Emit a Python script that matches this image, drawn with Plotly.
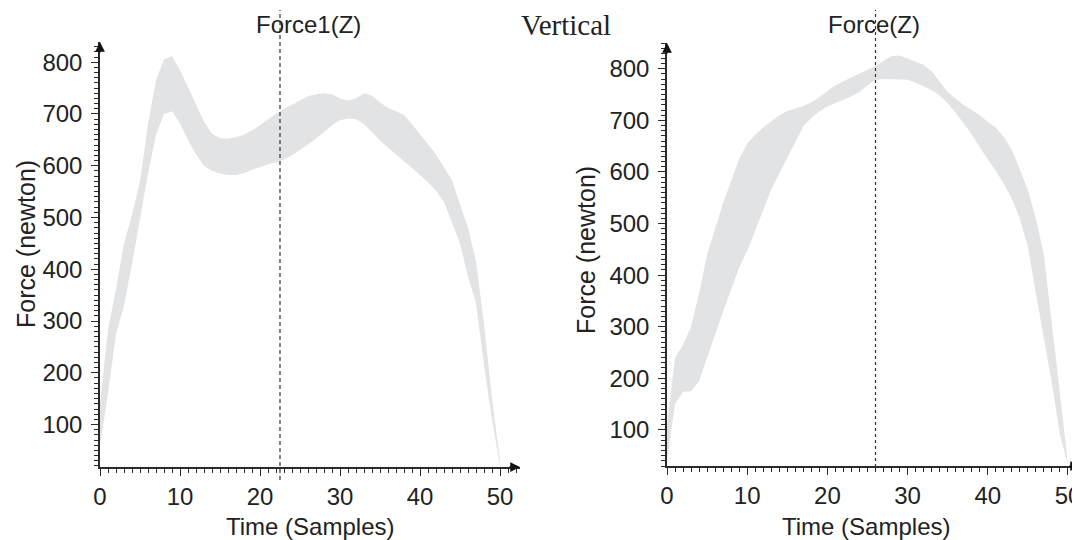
import plotly.graph_objects as go

# ---------------- data ----------------
samples = list(range(0, 51))

# Left panel: Force1(Z) band (upper / lower envelope, newton)
force1_upper = [140, 283, 362, 450, 505, 570, 680, 765, 805, 812, 785, 752, 718, 685, 662,
                653, 652, 655, 660, 668, 678, 690, 700, 710, 718, 726, 734, 738, 740, 738,
                730, 726, 730, 740, 735, 722, 712, 705, 698, 680, 660, 642, 622, 597, 572,
                525, 480, 415, 295, 150, 30]
force1_lower = [60, 160, 275, 330, 410, 500, 585, 660, 700, 705, 682, 650, 622, 600, 590,
                585, 582, 582, 586, 592, 598, 603, 606, 612, 620, 630, 641, 652, 665, 678,
                688, 691, 690, 680, 665, 648, 635, 622, 608, 595, 582, 568, 552, 530, 490,
                450, 385, 335, 215, 110, 20]

# Right panel: Force(Z) band (upper / lower envelope, newton)
force_upper = [110, 240, 265, 300, 365, 440, 490, 540, 583, 625, 655, 672, 686, 698, 710,
               718, 723, 728, 735, 745, 757, 768, 776, 783, 790, 798, 806, 815, 825, 826,
               820, 815, 808, 795, 775, 755, 742, 730, 720, 710, 697, 686, 668, 643, 605,
               565, 510, 439, 305, 165, 35]
force_lower = [40, 150, 174, 175, 195, 240, 287, 330, 372, 415, 447, 487, 528, 566, 597,
               627, 657, 688, 705, 717, 727, 733, 740, 747, 755, 768, 779, 780, 780, 780,
               779, 773, 766, 759, 748, 733, 715, 695, 673, 648, 626, 602, 577, 548, 510,
               455, 365, 280, 190, 90, 32]

marker_left = 22.5
marker_right = 26

x_ticks = [0, 10, 20, 30, 40, 50]
y_ticks = [100, 200, 300, 400, 500, 600, 700, 800]

titles = ["Force1(Z)", "Vertical", "Force(Z)"]
x_title = "Time (Samples)"
y_title = "Force (newton)"

# ---------------- figure ----------------
PAGE_OFF = 8           # default body margin of the html page
W, H = 1080 - PAGE_OFF, 540 - PAGE_OFF
BAND = "#e2e3e5"
AX = "#2b2b2b"
TXT = "#222222"
FONT = "Liberation Sans, Arial, sans-serif"
TICK_SIZE = 24


def px_x(p):
    return (p - PAGE_OFF) / W


def px_y(p):
    return 1 - (p - PAGE_OFF) / H


fig = go.Figure()

for (up, lo, xa, ya) in [(force1_upper, force1_lower, "x", "y"),
                         (force_upper, force_lower, "x2", "y2")]:
    fig.add_trace(go.Scatter(x=samples, y=up, mode="lines", line=dict(width=0, color=BAND),
                             xaxis=xa, yaxis=ya, hoverinfo="skip", showlegend=False))
    fig.add_trace(go.Scatter(x=samples, y=lo, mode="lines", line=dict(width=0, color=BAND),
                             fill="tonexty", fillcolor=BAND,
                             xaxis=xa, yaxis=ya, hoverinfo="skip", showlegend=False))


def xaxis_cfg(domain, rng, anchor):
    return dict(domain=domain, range=rng, anchor=anchor, tickvals=x_ticks,
                ticks="outside", ticklen=7, tickwidth=1, tickcolor=AX,
                minor=dict(dtick=1, tick0=0, ticks="outside", ticklen=4, tickwidth=1, tickcolor=AX),
                showline=True, linecolor=AX, linewidth=1.5, showgrid=False, zeroline=False,
                ticklabelstandoff=0, ticklabeloverflow="allow", automargin=False,
                tickfont=dict(size=TICK_SIZE, color=TXT, family=FONT))


def yaxis_cfg(domain, rng, anchor):
    return dict(domain=domain, range=rng, anchor=anchor, tickvals=y_ticks,
                ticks="outside", ticklen=7, tickwidth=1, tickcolor=AX,
                minor=dict(dtick=10, tick0=0, ticks="outside", ticklen=4, tickwidth=1, tickcolor=AX),
                showline=True, linecolor=AX, linewidth=1.5, showgrid=False, zeroline=False,
                ticklabelstandoff=4, ticklabeloverflow="allow", automargin=False,
                tickfont=dict(size=TICK_SIZE, color=TXT, family=FONT))


L_range_x, L_range_y = [0, 52.5], [18, 839]
R_range_x, R_range_y = [0, 51.5], [30, 850]

fig.update_layout(
    width=W, height=H,
    margin=dict(l=0, r=0, t=0, b=0),
    paper_bgcolor="white", plot_bgcolor="white",
    showlegend=False,
    xaxis=xaxis_cfg([px_x(100), px_x(520)], L_range_x, "y"),
    yaxis=yaxis_cfg([px_y(467), px_y(42)], L_range_y, "x"),
    xaxis2=xaxis_cfg([px_x(667), px_x(1080)], R_range_x, "y2"),
    yaxis2=yaxis_cfg([px_y(466), px_y(43)], R_range_y, "x2"),
)

# Vertical marker lines
fig.add_shape(type="line", xref="x", yref="paper", x0=marker_left, x1=marker_left,
              y0=px_y(480), y1=px_y(10), line=dict(color="#333333", width=1.2, dash="4px,3px"))
fig.add_shape(type="line", xref="x2", yref="paper", x0=marker_right, x1=marker_right,
              y0=px_y(467), y1=px_y(10), line=dict(color="#333333", width=1.2, dash="dot"))

# Axis arrowheads
for xa, ya, xr, yr in [("x", "y", L_range_x, L_range_y), ("x2", "y2", R_range_x, R_range_y)]:
    fig.add_annotation(x=xr[1], y=yr[0], xref=xa, yref=ya, ax=-12, ay=0, text="",
                       showarrow=True, arrowhead=2, arrowsize=1.3, arrowwidth=1.5, arrowcolor="#111")
    fig.add_annotation(x=0, y=yr[1], xref=xa, yref=ya, ax=0, ay=12, text="",
                       showarrow=True, arrowhead=2, arrowsize=1.3, arrowwidth=1.5, arrowcolor="#111")


def label(cx, cy, text, size, family=FONT, angle=0):
    fig.add_annotation(x=px_x(cx), y=px_y(cy), xref="paper", yref="paper", text=text,
                       xanchor="center", yanchor="middle", textangle=angle,
                       showarrow=False, font=dict(size=size, color=TXT, family=family))


# Titles
label(308, 25, titles[0], 24)
label(566, 25, titles[1], 29, family="Liberation Serif, Times New Roman, serif")
label(874, 25, titles[2], 24)

# Axis titles
label(310, 526, x_title, 24)
label(866, 526, x_title, 24)
label(26, 244, y_title, 25, angle=-90)
label(586, 250, y_title, 25, angle=-90)

fig.write_html("out.html")
